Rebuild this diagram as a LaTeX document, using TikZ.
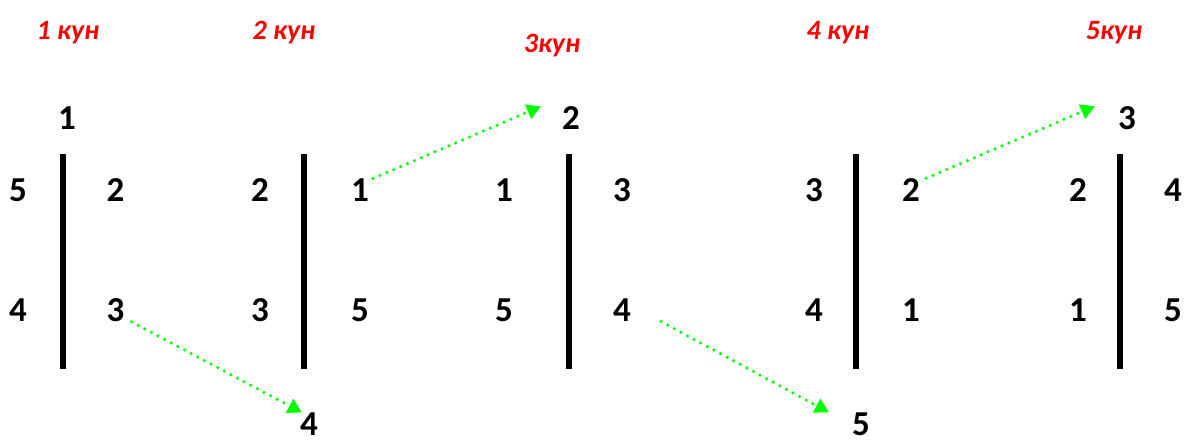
\documentclass[tikz,border=0pt]{standalone}
\usepackage{fontspec}
\setmainfont{Carlito}
\usepackage{xcolor}
\usepackage{tikz}
\usetikzlibrary{arrows.meta}
\definecolor{DayRed}{HTML}{FF0000}
\definecolor{MoveGreen}{HTML}{00FF00}
\begin{document}
\begin{tikzpicture}[x=1pt,y=-1pt,
 num/.style={font=\fontsize{35}{42}\selectfont\bfseries,inner sep=0pt},
 day/.style={font=\fontsize{28}{34}\selectfont\bfseries\itshape,text=DayRed,anchor=base,inner sep=0pt},
 bar/.style={line width=6pt,black},
 move/.style={MoveGreen,line width=3.5pt,line cap=round,dash pattern=on 0pt off 7.5pt,
  -{Triangle[length=14pt,width=15pt]}}]
\useasboundingbox (0,0) rectangle (1185,440);
% day titles
\node[day] (t1) at (68,39) {1 кун};
\node[day] (t2) at (284,39) {2 кун};
\node[day] (t3) at (552,52) {3кун};
\node[day] (t4) at (838,39) {4 кун};
\node[day] (t5) at (1114,39) {5кун};
% day 1
\node[num] (d1top) at (67,118) {1};
\node[num] (d1a) at (18,190) {5};
\node[num] (d1b) at (18,310) {4};
\node[num] (d1c) at (115.5,190) {2};
\node[num] (d1d) at (115.5,310) {3};
\draw[bar] (62.5,154) -- (62.5,369);
% day 2
\node[num] (d2a) at (260,190) {2};
\node[num] (d2b) at (260,310) {3};
\node[num] (d2c) at (360,190) {1};
\node[num] (d2d) at (360,310) {5};
\node[num] (d2bot) at (309,424) {4};
\draw[bar] (304,154) -- (304,369);
% day 3
\node[num] (d3top) at (571,118) {2};
\node[num] (d3a) at (504,190) {1};
\node[num] (d3b) at (504,310) {5};
\node[num] (d3c) at (622,190) {3};
\node[num] (d3d) at (622,310) {4};
\draw[bar] (569,154) -- (569,369);
% day 4
\node[num] (d4a) at (814,190) {3};
\node[num] (d4b) at (814,310) {4};
\node[num] (d4c) at (911,190) {2};
\node[num] (d4d) at (911,310) {1};
\node[num] (d4bot) at (861,424) {5};
\draw[bar] (855.5,154) -- (855.5,369);
% day 5
\node[num] (d5top) at (1127,118) {3};
\node[num] (d5a) at (1078,190) {2};
\node[num] (d5b) at (1078,310) {1};
\node[num] (d5c) at (1173,190) {4};
\node[num] (d5d) at (1173,310) {5};
\draw[bar] (1120,154) -- (1120,369);
% moves
\draw[move] ([xshift=7pt]d1d.south east) -- ([xshift=2pt]d2bot.north west);
\draw[move] ([xshift=4pt]d2c.north east) -- ([xshift=-21pt]d3top.north west);
\draw[move] ([xshift=30pt]d3d.south east) -- ([xshift=-23pt]d4bot.north west);
\draw[move] ([xshift=6pt]d4c.north east) -- ([xshift=-23pt]d5top.north west);
\end{tikzpicture}
\end{document}
